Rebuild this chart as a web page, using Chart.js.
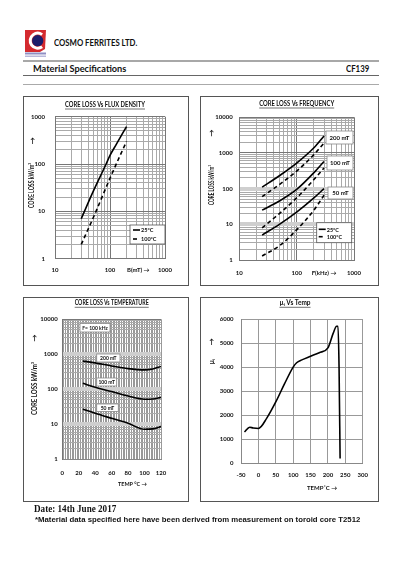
<!DOCTYPE html>
<html>
<head>
<meta charset="utf-8">
<script src="https://cdn.jsdelivr.net/npm/chart.js@4.4.1/dist/chart.umd.min.js"></script>
<style>
body { margin: 0; background: #fff; }
#page { position: relative; width: 400px; height: 570px; overflow: hidden; font-family: Lato, 'Open Sans', sans-serif; color: #111; }
.t { position: absolute; white-space: nowrap; line-height: 1; font-weight: bold; }
.rule { position: absolute; left: 23px; width: 356px; }
.box { position: absolute; border: 1px solid #555; box-sizing: border-box; }
canvas { position: absolute; }
</style>
</head>
<body>
<div id="page">
  <canvas id="logo" width="24" height="30" style="left:24px;top:29px"></canvas>
  <div class="t" data-w="83" style="left:54px;top:38px;font-size:9px">COSMO FERRITES LTD.</div>
  <div class="rule" style="top:60px;height:2px;background:#a8a8a8"></div>
  <div class="t" data-w="93" style="left:33px;top:63.5px;font-size:9.5px">Material Specifications</div>
  <div class="t" data-w="23" data-r="1" style="right:31px;top:63.5px;font-size:9.5px">CF139</div>
  <div class="rule" style="top:74.5px;height:1px;background:#666"></div>
  <div class="rule" style="top:83.5px;height:1px;background:#aaa"></div>

  <canvas id="c1" width="166" height="190" style="left:23px;top:96px"></canvas>
  <canvas id="c2" width="179" height="190" style="left:200px;top:96px"></canvas>
  <canvas id="c3" width="166" height="205" style="left:23px;top:297px"></canvas>
  <canvas id="c4" width="179" height="205" style="left:200px;top:297px"></canvas>
  <div class="box" style="left:23px;top:96px;width:166px;height:190px"></div>
  <div class="box" style="left:200px;top:96px;width:179px;height:190px"></div>
  <div class="box" style="left:23px;top:297px;width:166px;height:205px"></div>
  <div class="box" style="left:200px;top:297px;width:179px;height:205px"></div>

  <div class="t" data-w="82" style="left:34px;top:504px;font-size:10px;font-family:'Liberation Serif',serif">Date: 14th June 2017</div>
  <div class="t" data-w="325" style="left:35px;top:515.5px;font-size:7.5px;font-family:'Liberation Sans',sans-serif">*Material data specified here have been derived from measurement on toroid core T2512</div>
</div>
<script>
// core loss vs flux density (kW/m3 vs mT)
const fluxB25 = [30, 50, 85, 100, 130, 200];
const fluxLoss25 = [7, 27, 100, 152, 260, 620];
const fluxB100 = [30, 50, 100, 150, 200];
const fluxLoss100 = [2, 7.5, 50, 145, 300];
const fluxTicks = [10, 100, 1000];
const flossTicks = [1, 10, 100, 1000];

// core loss vs frequency
const freqKHz = [25, 50, 100, 200, 300];
const f200mT25 = [110, 230, 520, 1400, 3000];
const f200mT100 = [60, 130, 310, 900, 1900];
const f100mT25 = [25, 45, 95, 280, 580];
const f100mT100 = [8, 20, 55, 180, 380];
const f50mT25 = [5, 10, 22, 55, 100];
const f50mT100 = [1.3, 2.5, 7, 25, 65];
const freqTicks = [10, 100, 1000];
const lossTicks = [1, 10, 100, 1000, 10000];

// core loss vs temperature at 100 kHz
const tempC = [25, 40, 60, 80, 100, 110, 120];
const t200mT = [640, 570, 465, 390, 360, 380, 450];
const t100mT = [148, 114, 86, 64, 52, 53, 59];
const t50mT = [27, 20.6, 14.8, 10.7, 7.2, 7.4, 8.6];
const tempTicks = [0, 20, 40, 60, 80, 100, 120];

// initial permeability vs temperature
const muTemp = [-40, -25, -15, 0, 25, 50, 75, 100, 110, 125, 150, 175, 200, 215, 225, 229, 232, 235];
const muI = [1300, 1500, 1470, 1450, 1900, 2550, 3300, 4000, 4180, 4300, 4450, 4600, 4800, 5400, 5700, 5700, 4000, 200];
const muTempTicks = [-50, 0, 50, 100, 150, 200, 250, 300];
const muTicks = [0, 1000, 2000, 3000, 4000, 5000, 6000];

// fit header/footer text to measured widths
document.querySelectorAll('.t[data-w]').forEach(el => {
    const k = el.dataset.w / el.offsetWidth;
    el.style.transformOrigin = el.dataset.r ? 'right center' : 'left center';
    el.style.transform = 'scaleX(' + k + ')';
});

// logo
const lg = document.getElementById('logo').getContext('2d');
lg.fillStyle = '#d42a2f';
lg.beginPath();
lg.moveTo(1, 1); lg.lineTo(22, 1); lg.lineTo(21, 20); lg.lineTo(16, 23); lg.lineTo(1, 23);
lg.closePath(); lg.fill();
lg.strokeStyle = '#fff'; lg.lineWidth = 3;
lg.beginPath(); lg.arc(13.7, 11.7, 7.5, 0.3 * Math.PI, 1.7 * Math.PI); lg.stroke();
lg.fillStyle = '#1c1c6b';
lg.beginPath(); lg.arc(13.7, 11.7, 5.6, 0, 2 * Math.PI); lg.fill();
lg.fillStyle = '#8f8fc4'; lg.fillRect(1, 23.5, 21, 2);
lg.fillStyle = '#b8b8da'; lg.fillRect(1, 26.5, 21, 1.5);

const FONT = 'Lato, "Open Sans", sans-serif';
const tickFont = { family: FONT, size: 6, weight: 'bold' };

const deco = {
    id: 'deco',
    afterDraw(chart, args, o) {
        const ctx = chart.ctx;
        ctx.save();
        ctx.fillStyle = '#111';
        ctx.strokeStyle = '#111';
        ctx.textBaseline = 'middle';
        if (o.title) {
            const t = o.title;
            ctx.font = 'bold 6.5px ' + FONT;
            ctx.textAlign = 'center';
            const w = Math.min(ctx.measureText(t.text).width, t.w);
            ctx.fillText(t.text, t.x, t.y, t.w);
            ctx.lineWidth = 0.6;
            ctx.beginPath(); ctx.moveTo(t.x - w / 2, t.y + 4); ctx.lineTo(t.x + w / 2, t.y + 4); ctx.stroke();
        }
        if (o.yTitle) {
            const t = o.yTitle;
            ctx.font = 'bold 6.5px ' + FONT;
            ctx.textAlign = 'center';
            ctx.save(); ctx.translate(t.x, t.y); ctx.rotate(-Math.PI / 2);
            ctx.fillText(t.text, 0, 0, t.w); ctx.restore();
            ctx.font = 'bold 7px ' + FONT;
            ctx.save(); ctx.translate(t.x, t.ay); ctx.rotate(-Math.PI / 2);
            ctx.fillText('→', 0, 0); ctx.restore();
        }
        if (o.xTitle) {
            const t = o.xTitle;
            ctx.font = 'bold 6px ' + FONT;
            ctx.textAlign = 'left';
            ctx.fillText(t.text, t.x, t.y, t.w);
        }
        (o.tags || []).forEach(t => {
            ctx.fillStyle = '#fff';
            ctx.fillRect(t.x, t.y, t.w, t.h);
            ctx.strokeStyle = '#888'; ctx.lineWidth = 0.8;
            ctx.strokeRect(t.x, t.y, t.w, t.h);
            ctx.fillStyle = '#111';
            ctx.font = 'bold ' + t.fs + 'px ' + FONT;
            ctx.textAlign = 'center';
            ctx.fillText(t.text, t.x + t.w / 2, t.y + t.h / 2 + 0.5, t.w - 2);
        });
        if (o.legend) {
            const L = o.legend;
            ctx.fillStyle = '#fff'; ctx.fillRect(L.x, L.y, L.w, L.h);
            ctx.strokeStyle = '#555'; ctx.lineWidth = 0.8; ctx.strokeRect(L.x, L.y, L.w, L.h);
            ctx.font = 'bold 5.5px ' + FONT;
            ctx.textAlign = 'left';
            L.items.forEach((di, i) => {
                const ds = chart.data.datasets[di];
                const y = L.y + L.rows[i];
                ctx.setLineDash(ds.borderDash); ctx.lineWidth = ds.borderWidth; ctx.strokeStyle = '#000';
                ctx.beginPath(); ctx.moveTo(L.x + L.sx, y); ctx.lineTo(L.x + L.sx + L.sw, y); ctx.stroke();
                ctx.setLineDash([]);
                ctx.fillStyle = '#111';
                ctx.fillText(ds.label, L.x + L.sx + L.sw + 1, y + 0.5);
            });
        }
        ctx.restore();
    }
};

function logTicks(labels) {
    const out = [];
    for (let i = 0; i < labels.length - 1; i++)
        for (let m = 1; m < 10; m++) out.push(labels[i] * m);
    out.push(labels[labels.length - 1]);
    return out;
}

function logAxis(labels, pad, band) {
    const ticks = logTicks(labels);
    return {
        type: 'logarithmic', min: labels[0], max: labels[labels.length - 1],
        afterBuildTicks: s => { s.ticks = ticks.map(v => ({ value: v })); },
        ticks: { autoSkip: false, maxRotation: 0, padding: pad, font: tickFont, color: '#111',
            callback: v => labels.includes(v) ? String(v) : '' },
        grid: { drawTicks: false,
            color: c => band.includes(c.tick.value) ? '#cfcfcf' : (labels.includes(c.tick.value) ? '#777' : '#aaa'),
            lineWidth: c => band.includes(c.tick.value) ? 4 : 1 },
        border: { color: '#777' }
    };
}

function linAxis(labels, step, pad) {
    const ticks = [];
    for (let v = labels[0]; v <= labels[labels.length - 1]; v += step) ticks.push(v);
    return {
        type: 'linear', min: labels[0], max: labels[labels.length - 1],
        afterBuildTicks: s => { s.ticks = ticks.map(v => ({ value: v })); },
        ticks: { autoSkip: false, maxRotation: 0, padding: pad, font: tickFont, color: '#111',
            callback: v => labels.includes(v) ? String(v) : '' },
        grid: { drawTicks: false, color: '#999', lineWidth: 1 },
        border: { color: '#888' }
    };
}

function line(label, xs, ys, dashed) {
    return {
        label: label,
        data: xs.map((x, i) => ({ x: x, y: ys[i] })),
        borderColor: '#000', borderWidth: 1.6, borderDash: dashed ? [4, 3] : [],
        pointRadius: 0, cubicInterpolationMode: 'monotone', fill: false
    };
}

function makeChart(id, W, H, area, datasets, scales, decoOpts) {
    // axis boxes take all the space left of / below the plot area, so labels are not clipped
    scales.x.afterFit = s => { s.height = H - area.b; };
    scales.y.afterFit = s => { s.width = area.l; };
    new Chart(document.getElementById(id), {
        type: 'line',
        data: { datasets: datasets },
        options: {
            responsive: false, animation: false, devicePixelRatio: 1, events: [],
            layout: { padding: { left: 0, top: area.t, right: W - area.r, bottom: 0 } },
            scales: scales,
            plugins: { legend: { display: false }, title: { display: false }, tooltip: { enabled: false }, deco: decoOpts }
        },
        plugins: [deco]
    });
}

makeChart('c1', 166, 190, { l: 32, t: 20.7, r: 142, b: 162.7 },
    [line('25°C', fluxB25, fluxLoss25, false), line('100°C', fluxB100, fluxLoss100, true)],
    { x: logAxis(fluxTicks, 8, []), y: logAxis(flossTicks, 10, []) },
    {
        title: { text: 'CORE LOSS Vs FLUX DENSITY', x: 82, y: 9, w: 80 },
        yTitle: { text: 'CORE LOSS kW/m³', x: 9.3, y: 89.5, w: 45, ay: 44.7 },
        xTitle: { text: 'B(mT) →', x: 104, y: 174, w: 23 },
        legend: { x: 107, y: 129, w: 35, h: 19, rows: [5, 14], sx: 3, sw: 7, items: [0, 1] }
    });

makeChart('c2', 179, 190, { l: 39.3, t: 21.3, r: 154, b: 164 },
    [line('25°C', freqKHz, f200mT25, false), line('100°C', freqKHz, f200mT100, true),
     line('25°C', freqKHz, f100mT25, false), line('100°C', freqKHz, f100mT100, true),
     line('25°C', freqKHz, f50mT25, false), line('100°C', freqKHz, f50mT100, true)],
    { x: logAxis(freqTicks, 9.5, []), y: logAxis(lossTicks, 6.6, [10, 100]) },
    {
        title: { text: 'CORE LOSS Vs FREQUENCY', x: 96.7, y: 8, w: 75 },
        yTitle: { text: 'CORE LOSS kW/m³', x: 11.7, y: 89, w: 40, ay: 37 },
        xTitle: { text: 'F(kHz) →', x: 111.7, y: 176.7, w: 25 },
        tags: [
            { text: '200 mT', x: 126, y: 35, w: 27, h: 13, fs: 6 },
            { text: '100 mT', x: 127, y: 60, w: 26, h: 14, fs: 6 },
            { text: '50 mT', x: 128, y: 91, w: 25, h: 12, fs: 6 }
        ],
        legend: { x: 116.7, y: 126.7, w: 35, h: 20, rows: [6.6, 14], sx: 2, sw: 7, items: [0, 1] }
    });

makeChart('c3', 166, 205, { l: 39.3, t: 22.3, r: 138, b: 162.3 },
    [line('200 mT', tempC, t200mT, false), line('100 mT', tempC, t100mT, false), line('50 mT', tempC, t50mT, false)],
    { x: linAxis(tempTicks, 2, 10.4), y: logAxis(lossTicks, 4.6, [10, 100, 1000]) },
    {
        title: { text: 'CORE LOSS Vs TEMPERATURE', x: 88.7, y: 6.3, w: 74 },
        yTitle: { text: 'CORE LOSS kW/m³', x: 12, y: 91.5, w: 53, ay: 41 },
        xTitle: { text: 'TEMP °C →', x: 95, y: 187, w: 29 },
        tags: [
            { text: 'F= 100 kHz', x: 57, y: 26.5, w: 30, h: 8.5, fs: 5 },
            { text: '200 mT', x: 73.7, y: 57, w: 23.3, h: 8, fs: 5 },
            { text: '100 mT', x: 73.7, y: 81, w: 20, h: 8, fs: 5 },
            { text: '50 mT', x: 73.7, y: 107, w: 21.6, h: 7.5, fs: 5 }
        ]
    });

makeChart('c4', 179, 205, { l: 41, t: 22, r: 162.7, b: 166.3 },
    [line('µi', muTemp, muI, false)],
    { x: linAxis(muTempTicks, 50, 8), y: linAxis(muTicks, 1000, 7.4) },
    {
        title: { text: 'µᵢ Vs Temp', x: 95, y: 6.3, w: 36 },
        yTitle: { text: 'µᵢ', x: 11.7, y: 64.7, w: 20, ay: 44.7 },
        xTitle: { text: 'TEMP˚C →', x: 107, y: 190.7, w: 31 }
    });
</script>
</body>
</html>
